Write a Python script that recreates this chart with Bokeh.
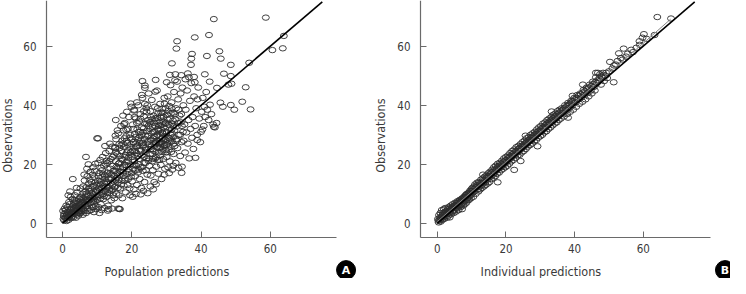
import math
from bokeh.plotting import figure
from bokeh.layouts import row
from bokeh.models import Label, Range1d, FixedTicker
from bokeh.embed import file_html
from bokeh.resources import INLINE

# ---------------- data ----------------
ticks = [0, 20, 40, 60]
x_label_a = "Population predictions"
x_label_b = "Individual predictions"
y_label = "Observations"

identity_x = [0, 75]
identity_y = [0, 75]
smooth_b_x = [0, 20, 40, 60, 68]
smooth_b_y = [0.6, 20.8, 41.0, 61.0, 69.2]

# Panel A: population predictions vs observations (x, y)
pop_pairs = [
 (0.3,1.5),(0.5,3.2),(0.8,2.0),(1.0,4.5),(1.2,0.8),(1.3,3.0),(1.5,5.5),(1.6,2.2),(1.8,1.2),(2.0,4.0),
 (2.1,6.5),(2.3,2.8),(2.5,1.8),(2.6,5.0),(2.8,3.5),(2.9,8.2),(0.2,4.2),(0.6,5.0),(1.1,6.0),(1.9,7.2),
 (2.4,9.0),(0.4,2.5),(1.4,1.7),(2.7,2.3),
 (3.1,2.0),(3.2,4.5),(3.3,6.8),(3.5,3.3),(3.6,9.5),(3.8,5.2),(3.9,1.9),(4.0,7.5),(4.2,3.0),(4.3,10.5),
 (4.5,5.8),(4.6,2.6),(4.8,8.3),(4.9,4.1),(5.0,6.5),(5.2,11.8),(5.3,3.6),(5.4,9.0),(5.6,5.0),(5.7,7.2),
 (5.9,2.9),(6.0,12.5),(3.4,8.0),(4.1,12.0),(4.7,6.2),(5.5,4.2),(5.8,10.0),(3.7,3.9),(4.4,4.8),(5.1,8.8),
 (2.2,10.8),(1.7,9.5),
 (6.1,4.3),(6.2,8.0),(6.4,14.5),(6.5,6.2),(6.6,10.8),(6.8,3.5),(6.9,12.2),(7.0,7.5),(7.2,16.0),(7.3,5.0),
 (7.4,9.5),(7.6,13.5),(7.7,4.2),(7.8,11.0),(8.0,6.8),(8.1,17.5),(8.2,8.8),(8.4,14.0),(8.5,5.5),(8.6,10.2),
 (8.8,19.0),(8.9,7.2),(9.0,12.8),(9.1,3.8),(9.2,15.5),(9.4,9.0),(9.5,20.2),(9.6,6.0),(9.8,13.0),(9.9,11.0),
 (6.3,16.5),(7.1,18.5),(7.5,20.0),(8.3,4.5),(8.7,16.5),(9.3,17.8),(9.7,4.8),(6.7,9.0),(7.9,14.8),(9.0,8.2),
 (10.1,8.0),(10.2,14.5),(10.3,20.5),(10.4,5.5),(10.5,11.8),(10.6,17.0),(10.8,9.5),(10.9,21.5),(11.0,13.2),
 (11.1,6.5),(11.2,18.8),(11.4,10.5),(11.5,15.8),(11.6,22.5),(11.8,8.2),(11.9,12.5),(12.0,19.5),(12.1,5.2),
 (12.2,16.2),(12.4,11.0),(12.5,23.8),(12.6,14.0),(12.8,9.0),(12.9,20.5),(13.0,17.2),(13.1,12.2),(13.2,6.0),
 (13.4,15.0),(13.5,24.5),(13.6,10.2),(13.8,18.5),(13.9,13.5),(14.0,21.8),(14.1,7.8),(14.2,16.5),(14.4,26.0),
 (14.5,11.5),(14.6,19.5),(14.8,14.2),(14.9,23.0),(10.7,3.5),(11.3,4.5),(12.3,26.2),(13.3,4.8),(13.7,27.0),
 (14.3,5.0),(10.0,28.8),(14.7,9.5),(12.7,21.2),(11.7,16.8),
 (15.0,8.5),(15.1,17.8),(15.2,25.5),(15.3,12.5),(15.4,21.0),(15.5,28.5),(15.6,10.0),(15.7,15.5),(15.8,23.5),
 (15.9,18.8),(16.0,13.8),(16.1,30.5),(16.2,20.2),(16.3,9.5),(16.4,26.8),(16.5,16.5),(16.6,22.8),(16.7,11.8),
 (16.8,19.0),(16.9,33.0),(17.0,24.5),(17.1,14.5),(17.2,28.0),(17.3,8.5),(17.4,21.5),(17.5,17.2),(17.6,31.5),
 (17.7,12.8),(17.8,25.8),(17.9,19.8),(18.0,34.0),(18.1,15.2),(18.2,23.2),(18.3,10.5),(18.4,29.5),(18.5,20.8),
 (18.6,16.8),(18.7,27.2),(18.8,13.0),(18.9,32.0),(19.0,22.2),(19.1,18.2),(19.2,36.0),(19.3,26.0),(19.4,11.8),
 (19.5,30.0),(19.6,20.0),(19.7,24.0),(19.8,15.8),(19.9,39.5),(15.4,35.0),(16.1,5.0),(17.9,28.8),(18.6,37.8),
 (19.5,9.5),(16.6,4.8),(17.5,36.5),(18.9,24.8),(15.9,31.5),(17.0,26.5),
 (20.0,28.5),(20.1,14.2),(20.2,22.5),(20.3,33.5),(20.4,18.5),(20.5,25.8),(20.6,11.5),(20.7,38.5),(20.8,21.0),
 (20.9,30.2),(21.0,16.0),(21.1,27.0),(21.2,35.5),(21.3,19.5),(21.4,23.8),(21.5,13.0),(21.6,31.8),(21.7,26.2),
 (21.8,17.2),(21.9,40.0),(22.0,29.0),(22.1,21.8),(22.2,34.5),(22.3,15.0),(22.4,25.0),(22.5,37.0),(22.6,19.0),
 (22.7,28.0),(22.8,12.0),(22.9,32.5),(23.0,23.0),(23.1,42.5),(23.2,17.8),(23.3,30.8),(23.4,26.5),(23.5,36.2),
 (23.6,20.5),(23.7,14.0),(23.8,33.8),(23.9,24.2),(24.0,29.8),(24.1,18.0),(24.2,39.0),(24.3,22.0),(24.4,31.2),
 (24.5,16.5),(24.6,27.5),(24.7,35.0),(24.8,21.2),(24.9,44.0),(20.3,9.0),(21.2,10.0),(22.6,9.8),(23.4,11.0),
 (24.6,10.2),(21.5,41.0),(22.9,43.5),(23.8,40.5),(20.8,36.0),(24.3,37.8),(21.0,24.5),(22.0,18.2),(23.1,27.2),
 (24.0,25.5),(22.5,31.0),(23.5,22.5),(20.6,19.8),(21.8,28.2),(24.8,33.0),
 (25.0,28.0),(25.1,19.5),(25.2,34.2),(25.3,23.5),(25.4,38.0),(25.5,16.2),(25.6,30.5),(25.7,26.0),(25.8,41.8),
 (25.9,21.0),(26.0,32.8),(26.1,18.0),(26.2,28.8),(26.3,36.5),(26.4,24.5),(26.5,14.0),(26.6,31.0),(26.7,39.5),
 (26.8,22.0),(26.9,27.2),(27.0,34.8),(27.1,19.2),(27.2,25.8),(27.3,45.0),(27.4,30.0),(27.5,21.5),(27.6,37.2),
 (27.7,16.8),(27.8,33.0),(27.9,26.8),(28.0,29.5),(28.1,23.0),(28.2,40.5),(28.3,35.8),(28.4,19.8),(28.5,31.8),
 (28.6,27.5),(28.7,24.2),(28.8,38.8),(28.9,33.5),(29.0,29.0),(29.1,21.8),(29.2,36.0),(29.3,26.2),(29.4,42.5),
 (29.5,31.2),(29.6,18.5),(29.7,34.0),(29.8,28.2),(29.9,24.8),(25.4,12.5),(26.2,11.5),(27.0,13.2),(28.6,15.0),
 (29.4,16.5),(28.0,34.2),(29.0,37.5),(27.5,32.0),(26.5,29.5),(28.5,28.5),(29.5,26.5),(27.2,28.0),(28.8,30.8),
 (29.8,39.0),(26.0,21.8),(27.8,24.0),(25.5,25.2),(29.2,32.5),(28.3,26.0),(26.8,35.5),
 (30.0,30.5),(30.1,22.5),(30.2,36.8),(30.3,27.0),(30.4,43.0),(30.5,19.0),(30.6,33.5),(30.7,25.0),(30.8,39.8),
 (30.9,28.8),(31.0,21.0),(31.1,35.5),(31.2,46.8),(31.3,30.0),(31.4,24.2),(31.5,41.0),(31.6,27.8),(31.7,18.2),
 (31.8,33.8),(31.9,37.5),(32.0,29.2),(32.1,23.5),(32.2,44.5),(32.3,31.5),(32.4,26.2),(32.5,48.5),(32.6,35.2),
 (32.7,20.5),(32.8,39.0),(32.9,28.0),(33.0,32.8),(33.2,25.5),(33.4,42.0),(33.6,30.0),(33.8,36.5),(34.0,22.8),
 (34.2,34.2),(34.4,27.5),(34.6,46.0),(34.8,31.0),(33.1,48.0),(34.1,44.0),(34.9,40.0),(30.8,17.0),(32.0,19.5),
 (33.5,18.8),(34.5,19.2),(31.5,31.8),(33.3,34.0),(34.3,37.0),
 (35.0,28.0),(35.2,33.5),(35.4,24.0),(35.6,38.5),(35.8,30.8),(36.0,45.0),(36.2,27.0),(36.4,35.0),(36.6,22.0),
 (36.8,41.5),(37.0,32.0),(37.2,47.5),(37.4,29.0),(37.6,36.0),(37.8,25.2),(38.0,43.0),(38.3,33.0),(38.6,39.0),
 (38.9,30.0),(39.2,46.0),(39.5,35.5),(39.8,27.5),(40.2,37.8),(40.5,42.5),(40.8,33.0),(41.2,36.0),(41.5,44.5),
 (41.8,38.5),(42.2,35.0),(42.6,40.2),(43.0,37.0),(43.5,33.5),(44.0,32.5),(44.5,34.0),(35.5,48.8),(36.5,49.5),
 (38.2,47.8),(39.0,42.0),(40.0,31.0),(41.0,39.5),
 # outliers
 (43.7,69.2),(58.7,69.7),(33.1,61.7),(32.9,59.2),(38.2,63.0),(42.3,63.8),(45.3,58.3),(41.7,56.7),(45.7,55.8),
 (37.4,57.4),(37.2,55.8),(31.6,54.2),(48.6,53.7),(37.1,53.7),(41.1,50.5),(46.6,50.7),(48.6,49.9),(31.0,50.3),
 (32.6,50.5),(34.3,50.2),(36.2,50.8),(38.0,49.6),(42.5,48.0),(47.9,47.0),(48.8,47.3),(52.9,46.1),(44.6,45.9),
 (26.9,48.6),(23.1,48.2),(23.8,46.7),(23.8,45.9),(30.1,47.8),(60.6,58.7),(63.6,59.3),(63.9,63.5),(53.9,54.4),
 (51.9,41.2),(54.3,38.6),(49.6,38.5),(48.6,40.1),(46.3,39.5),(45.6,40.9),(43.7,32.7),(40.4,31.8),(38.4,22.2),
 (38.9,28.2),(34.4,17.1),(19.7,40.6),(20.7,38.2),(10.3,28.8),(6.8,22.5),(3.0,15.0),(16.4,4.9),(13.1,4.3),
 (17.8,33.6),(15.3,29.7),(15.2,25.8),(18.4,31.7),(26.8,44.6),
]

# Panel A: extra points in the dense core near the line
pop_core_pairs = [
 (0.5,1.0),(0.9,1.8),(1.2,2.6),(1.5,3.8),(1.8,2.9),(2.1,3.3),(2.4,4.6),(2.7,3.0),(3.0,3.8),(3.3,4.9),
 (3.6,4.2),(3.9,5.6),(4.2,4.4),(4.5,3.7),(4.8,5.3),(5.1,6.0),(5.4,5.4),(5.7,6.6),(6.0,4.9),(6.3,6.9),
 (6.6,7.4),(6.9,5.8),(7.2,8.1),(7.5,6.6),(7.8,7.9),(8.1,9.4),(8.4,7.3),(8.7,8.6),(9.0,9.9),(9.3,7.6),
 (9.6,10.6),(9.9,8.9),(1.0,3.6),(2.0,2.2),(3.0,6.0),(4.0,5.8),(5.0,3.4),(6.0,8.6),(7.0,10.0),(8.0,11.8),
 (9.0,5.5),(5.5,7.8),(6.5,4.1),(7.5,11.8),(8.5,12.5),(9.5,13.8),(4.6,7.0),(3.5,7.1),
 (10.2,10.8),(10.5,13.5),(10.8,11.2),(11.1,14.2),(11.4,12.0),(11.7,9.8),(12.0,13.6),(12.3,15.0),(12.6,12.4),
 (12.9,16.2),(13.2,13.9),(13.5,11.3),(13.8,17.0),(14.1,15.2),(14.4,13.1),(14.7,17.8),(15.0,16.1),(15.3,14.8),
 (15.6,19.2),(15.9,16.9),(16.2,14.6),(16.5,20.5),(16.8,17.6),(17.1,21.8),(17.4,19.0),(17.7,16.1),(18.0,22.6),
 (18.3,19.7),(18.6,24.0),(18.9,21.0),(19.2,17.5),(19.5,23.2),(19.8,26.8),(10.4,16.0),(11.5,18.0),(12.5,20.0),
 (13.5,21.0),(14.5,22.5),(15.5,24.0),(16.5,25.5),(17.5,27.0),(18.5,28.0),(19.5,29.0),(11.0,8.5),(12.0,9.2),
 (13.0,10.2),(14.0,11.0),(15.0,12.2),(16.0,12.0),(17.0,13.2),(18.0,14.5),(19.0,15.0),
 (20.2,24.5),(20.5,27.5),(20.8,23.2),(21.1,29.2),(21.4,26.0),(21.7,22.8),(22.0,31.0),(22.3,27.2),(22.6,24.6),
 (22.9,30.0),(23.2,26.0),(23.5,32.2),(23.8,28.6),(24.1,25.0),(24.4,33.8),(24.7,29.6),(25.0,26.8),(25.3,32.0),
 (25.6,28.2),(25.9,35.2),(26.2,31.0),(26.5,27.0),(26.8,33.0),(27.1,29.5),(27.4,35.8),(27.7,31.5),(28.0,27.2),
 (28.3,33.2),(28.6,36.5),(28.9,30.5),(29.2,34.5),(29.5,28.5),(29.8,33.8),(30.1,31.0),(30.4,35.2),(30.7,29.0),
 (31.0,33.2),(31.3,37.2),(31.6,30.5),(31.9,34.8),(20.5,32.0),(21.5,34.0),(22.5,35.5),(23.5,38.0),(24.5,40.0),
 (25.5,36.0),(26.5,34.0),(27.5,39.0),(28.5,37.5),(29.5,40.5),(20.0,17.0),(21.0,18.0),(22.0,20.0),(23.0,19.0),
 (24.0,20.5),(25.0,22.0),(26.0,23.5),(27.0,22.5),(28.0,21.5),(29.0,25.0),(30.0,24.0),(31.0,26.0),(32.0,27.0),
 (33.0,28.5),(34.0,30.0),(26.0,25.0),(27.0,27.5),(28.0,25.5),(29.0,27.0),(30.0,26.5),(31.0,28.0),(32.0,33.0),
 (30.5,38.0),(31.5,39.0),(32.5,37.0),(33.5,38.5),(34.5,33.0),
]

# Panel B: individual predictions vs observations (x, y)
ind_pairs = [
 (0.2,1.5),(0.4,0.3),(0.5,2.8),(0.7,1.0),(0.9,3.5),(1.0,0.6),(1.2,2.2),(1.3,4.5),(1.5,1.2),(1.6,3.0),
 (1.8,2.0),(1.9,4.8),(2.0,1.5),(2.2,3.5),(2.3,5.2),(2.5,2.4),(2.6,4.0),(2.8,1.9),(2.9,3.2),(3.0,4.8),
 (3.2,2.6),(3.3,5.5),(3.5,3.5),(3.6,2.0),(3.8,4.6),(3.9,6.0),(4.0,3.0),(4.2,5.0),(4.3,3.8),(4.5,6.5),
 (4.6,4.2),(4.8,3.5),(4.9,5.8),(5.0,4.6),(5.2,7.0),(5.3,5.2),(5.5,4.0),(5.6,6.3),(5.8,5.0),(5.9,7.5),
 (6.0,5.8),(6.2,4.5),(6.3,7.2),(6.5,6.0),(6.6,8.0),(6.8,5.5),(6.9,7.5),(7.0,6.2),(7.2,4.8),(7.3,8.5),
 (7.5,7.0),(7.6,6.0),(7.8,9.0),(7.9,7.5),(8.0,6.5),(8.2,9.5),(8.3,8.0),(8.5,7.0),(8.6,10.0),(8.8,8.5),
 (8.9,7.8),(9.0,10.2),(9.2,9.0),(9.3,8.0),(9.5,11.0),(9.6,9.5),(9.8,8.5),(9.9,11.5),
 (10.0,9.8),(10.2,12.0),(10.4,10.5),(10.5,9.0),(10.7,12.5),(10.9,11.0),(11.0,13.2),(11.2,10.0),(11.4,12.2),
 (11.6,13.8),(11.8,11.5),(12.0,10.8),(12.1,14.0),(12.3,12.5),(12.5,11.5),(12.7,14.8),(12.9,13.0),(13.0,12.0),
 (13.2,15.2),(13.4,13.8),(13.6,12.5),(13.8,15.8),(14.0,14.0),(14.1,13.0),(14.3,16.2),(14.5,14.8),(14.7,13.5),
 (14.9,17.0),(15.0,15.5),(15.2,14.0),(15.4,17.5),(15.6,16.0),(15.8,15.0),(16.0,18.2),(16.2,16.5),(16.4,15.5),
 (16.5,19.0),(16.7,17.2),(16.9,16.0),(17.0,19.5),(17.2,18.0),(17.4,16.8),(17.6,20.2),(17.8,18.5),(18.0,17.2),
 (18.2,20.5),(18.4,19.0),(18.6,18.0),(18.8,21.2),(19.0,19.5),(19.2,18.5),(19.4,22.0),(19.6,20.2),(19.8,19.0),
 (20.0,22.5),(20.2,20.8),(20.4,19.5),(20.6,23.0),(20.8,21.5),(21.0,20.2),(21.2,23.8),(21.4,22.0),(21.6,21.0),
 (21.8,24.5),(22.0,22.8),(22.2,21.5),(22.4,25.0),(22.6,23.2),(22.8,22.2),(23.0,25.8),(23.2,24.0),(23.4,23.0),
 (23.6,26.2),(23.8,24.5),(24.0,23.2),(24.2,26.8),(24.4,25.2),(24.6,24.0),(24.8,27.5),(25.0,25.8),(25.2,24.5),
 (25.4,28.0),(25.6,26.5),(25.8,25.2),(26.0,28.8),(26.2,27.0),(26.4,26.0),(26.6,29.2),(26.8,27.8),(27.0,26.5),
 (27.2,30.0),(27.4,28.2),(27.6,27.0),(27.8,30.5),(28.0,29.0),(28.2,27.8),(28.4,31.0),(28.6,29.5),(28.8,28.2),
 (29.0,31.8),(29.2,30.2),(29.4,29.0),(29.6,32.5),(29.8,30.8),
 (30.0,29.5),(30.2,33.0),(30.4,31.2),(30.6,30.0),(30.8,33.8),(31.0,32.0),(31.2,30.8),(31.4,34.2),(31.6,32.5),
 (31.8,31.2),(32.0,35.0),(32.2,33.2),(32.4,32.0),(32.6,35.5),(32.8,34.0),(33.0,32.5),(33.2,36.0),(33.4,34.5),
 (33.6,33.2),(33.8,36.8),(34.0,35.0),(34.2,33.8),(34.4,37.2),(34.6,35.5),(34.8,34.2),(35.0,38.0),(35.2,36.2),
 (35.4,35.0),(35.6,38.5),(35.8,36.8),(36.0,35.5),(36.3,39.0),(36.6,37.5),(36.9,36.2),(37.2,40.0),(37.5,38.2),
 (37.8,37.0),(38.1,40.8),(38.4,39.0),(38.7,37.8),(39.0,41.5),(39.3,40.0),(39.6,38.5),(39.9,42.5),
 (40.2,41.0),(40.5,39.5),(40.8,43.5),(41.1,42.0),(41.4,40.5),(41.7,44.0),(42.0,42.8),(42.3,41.2),(42.6,45.2),
 (42.9,43.5),(43.2,42.0),(43.5,46.0),(43.8,44.2),(44.1,43.0),(44.4,47.0),(44.7,45.0),(45.0,44.0),(45.3,48.0),
 (45.6,46.2),(45.9,45.0),(46.2,49.5),(46.5,47.5),(46.8,51.0),(47.1,48.5),(47.4,50.5),(47.7,47.0),(48.0,49.5),
 (48.3,51.0),(48.6,48.2),(49.0,50.0),(49.5,49.2),
 (51.5,53.5),(52.5,55.0),(53.5,56.0),(55.0,56.5),(56.5,58.8),(57.0,58.0),(58.0,59.5),
 # outliers
 (64.1,69.9),(68.1,69.4),(60.2,64.1),(59.8,62.9),(58.9,61.7),(54.3,59.2),(52.9,57.6),(50.3,54.7),(51.4,47.8),
 (46.2,51.0),(42.4,47.0),(38.1,35.8),(29.2,26.1),(25.7,29.7),(24.3,21.1),(22.4,18.1),(17.6,13.9),(13.3,16.5),
 (33.3,37.9),(39.4,43.2),(63.3,63.8),
]

# Panel B: extra points in the dense band
ind_core_pairs = [
 (0.3,0.9),(0.8,2.0),(1.1,1.6),(1.4,2.5),(1.7,3.5),(2.1,2.8),(2.4,3.9),(2.7,3.1),(3.1,4.2),(3.4,4.0),
 (3.7,5.2),(4.1,4.8),(4.4,5.6),(4.7,5.1),(5.1,6.2),(5.4,5.9),(5.7,6.9),(6.1,6.5),(6.4,7.6),(6.7,7.0),
 (7.1,8.2),(7.4,7.8),(7.7,8.6),(8.1,8.9),(8.4,9.6),(8.7,9.2),(9.1,10.3),(9.4,9.9),(9.7,10.8),
 (10.1,11.0),(10.6,11.6),(11.1,12.1),(11.5,12.9),(12.0,12.8),(12.4,13.7),(12.8,13.5),(13.3,14.6),(13.7,14.3),
 (14.2,15.4),(14.6,15.9),(15.1,16.2),(15.5,16.9),(15.9,17.3),(16.3,17.6),(16.8,18.3),(17.3,18.6),(17.7,19.3),
 (18.1,19.5),(18.5,20.2),(18.9,20.0),(19.3,20.8),(19.7,21.3),
 (20.1,21.4),(20.5,22.0),(20.9,22.5),(21.3,22.6),(21.7,23.3),(22.1,23.6),(22.5,24.0),(22.9,24.5),(23.3,24.6),
 (23.7,25.3),(24.1,25.5),(24.5,26.1),(24.9,26.3),(25.3,26.9),(25.7,27.2),(26.1,27.6),(26.5,28.2),(26.9,28.4),
 (27.3,29.0),(27.7,29.3),(28.1,29.8),(28.5,30.2),(28.9,30.5),(29.3,31.1),(29.7,31.4),
 (30.1,31.8),(30.5,32.3),(30.9,32.6),(31.3,33.1),(31.7,33.5),(32.1,33.9),(32.5,34.3),(32.9,34.8),(33.3,35.1),
 (33.7,35.6),(34.1,36.0),(34.5,36.3),(34.9,36.9),(35.3,37.2),(35.7,37.6),(36.1,38.1),(36.5,38.4),(36.9,38.9),
 (37.3,39.2),(37.7,39.7),(38.2,40.1),(38.6,40.5),(39.1,41.0),(39.5,41.4),(40.0,42.0),(40.6,42.5),(41.2,43.2),
 (41.8,43.6),(42.4,44.3),(43.0,44.8),(43.6,45.4),(44.2,46.0),(44.8,46.5),(45.4,47.2),(46.0,47.8),(46.6,48.4),
 (47.2,49.2),(47.8,49.8),(48.4,50.3),(49.2,51.0),(50.0,51.5),(51.0,52.5),(52.0,53.8),(54.0,55.5),(55.5,57.5),
 (59.0,60.5),(61.0,62.5),
]

pop_pred = [a for a, b in pop_pairs + pop_core_pairs]
pop_obs = [b for a, b in pop_pairs + pop_core_pairs]
ind_pred = [a for a, b in ind_pairs + ind_core_pairs]
ind_obs = [b for a, b in ind_pairs + ind_core_pairs]

# ---------------- styling / layout ----------------
FONT = "DejaVu Sans Condensed, Roboto, sans-serif"
AX_COL = "#6a6a6a"
TXT_COL = "#3a3a3a"
PT_COL = "#2e2e2e"
W, H = 365, 278
Y_AXIS_SPAN = (-4.8, 75.5)      # extent of the drawn y axis (data units)
Y_VIEW = (-18.69, 75.5)         # whole canvas height in data units


def make_panel(xs, ys, xlabel, letter, x_view, x_axis_span, xlab_x, ylab_x, letter_x, smooth=None):
    p = figure(width=W, height=H, output_backend="svg", toolbar_location=None,
               x_range=Range1d(*x_view), y_range=Range1d(*Y_VIEW),
               min_border_left=0, min_border_right=0, min_border_top=0, min_border_bottom=0)
    p.outline_line_color = None
    p.grid.visible = False
    p.background_fill_color = "white"
    p.border_fill_color = "white"

    xa, ya = p.xaxis[0], p.yaxis[0]
    xa.fixed_location = Y_AXIS_SPAN[0]
    xa.bounds = x_axis_span
    ya.fixed_location = x_axis_span[0]
    ya.bounds = Y_AXIS_SPAN
    for ax in (xa, ya):
        ax.ticker = FixedTicker(ticks=ticks)
        ax.axis_line_color = AX_COL
        ax.axis_line_width = 1.2
        ax.major_tick_line_color = AX_COL
        ax.major_tick_in = 6
        ax.major_tick_out = 0
        ax.minor_tick_line_color = None
        ax.major_label_text_font = FONT
        ax.major_label_text_font_size = "11.5px"
        ax.major_label_text_color = TXT_COL
    xa.major_label_standoff = 6
    ya.major_label_standoff = 10

    p.ellipse(xs, ys, width=7, height=5.4, width_units="screen", height_units="screen",
              fill_color=None, line_color=PT_COL, line_width=1.0, line_alpha=0.9)
    if smooth is not None:
        p.line(smooth[0], smooth[1], line_color="#888888", line_width=1.0)
    p.line(identity_x, identity_y, line_color="black", line_width=1.6)

    # axis titles
    p.add_layout(Label(x=xlab_x, y=-16.2, text=xlabel, text_align="center", text_baseline="middle",
                       text_font=FONT, text_font_size="12.5px", text_color=TXT_COL))
    p.add_layout(Label(x=ylab_x, y=29.7, text=y_label, angle=math.pi / 2,
                       text_align="center", text_baseline="middle",
                       text_font=FONT, text_font_size="12.5px", text_color=TXT_COL))

    # panel badge
    p.scatter([letter_x], [-15.85], marker="circle", size=19, fill_color="black", line_color="black")
    p.add_layout(Label(x=letter_x, y=-15.85, text=letter, text_align="center", text_baseline="middle",
                       text_font="DejaVu Sans", text_font_style="bold", text_font_size="11px",
                       text_color="white"))
    return p


pa = make_panel(pop_pred, pop_obs, x_label_a, "A", (-17.87, 87.47), (-4.6, 79.1),
                30.15, -15.9, 81.86)
pb = make_panel(ind_pred, ind_obs, x_label_b, "B", (-20.93, 85.43), (-4.9, 79.6),
                30.18, -16.6, 83.82, smooth=(smooth_b_x, smooth_b_y))

layout = row(pa, pb)
open("out.html", "w").write(file_html(layout, INLINE))
